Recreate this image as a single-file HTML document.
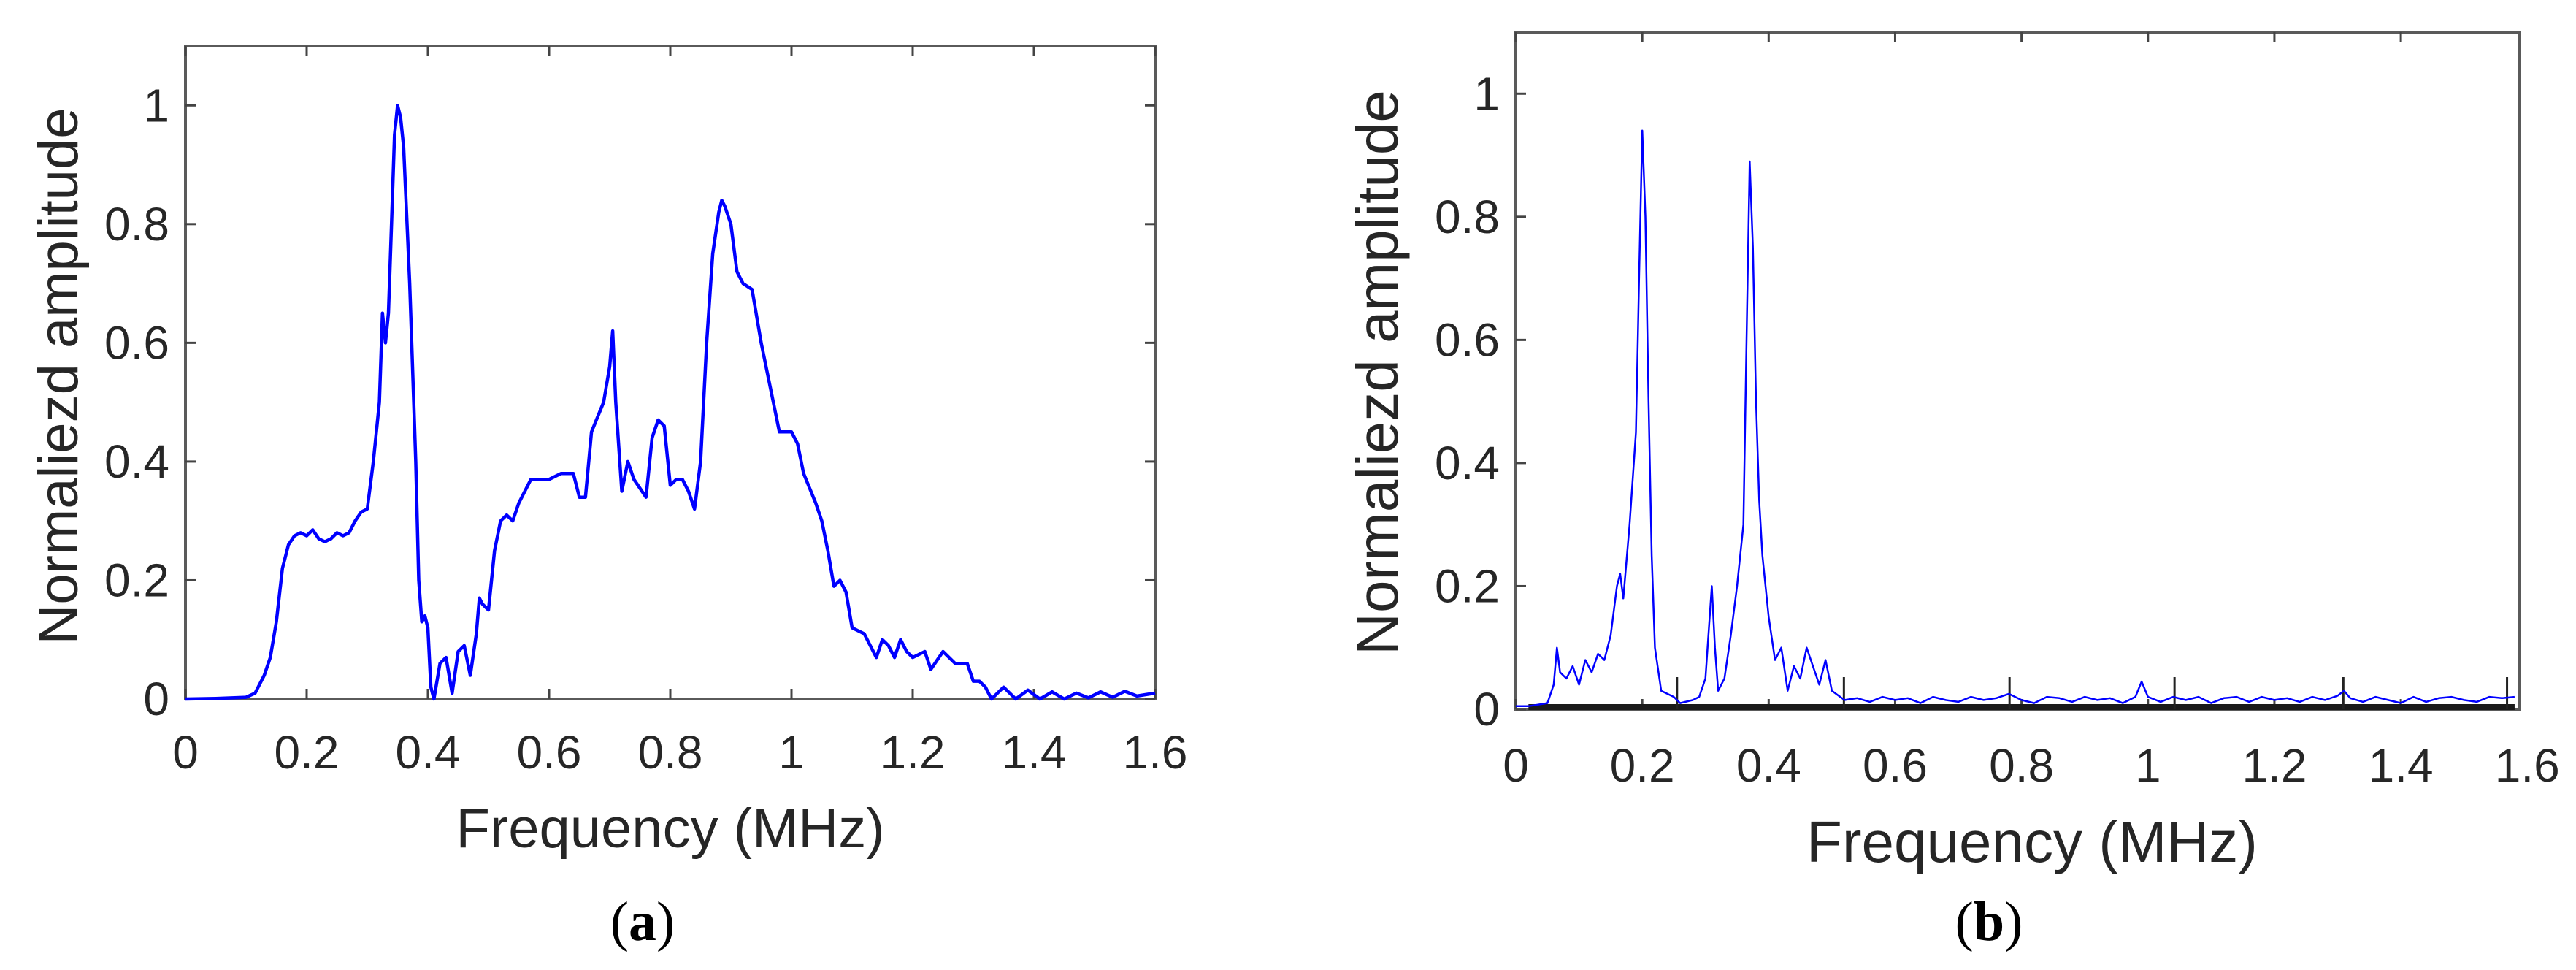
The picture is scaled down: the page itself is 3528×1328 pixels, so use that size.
<!DOCTYPE html>
<html><head><meta charset="utf-8"><style>
html,body{margin:0;padding:0;background:#fff;}
svg{display:block;}
text{font-family:"Liberation Sans",Arial,sans-serif;fill:#262626;}
</style></head><body>
<svg id="fig" width="3528" height="1328" viewBox="0 0 3528 1328"></svg>
<script>
// ---- Panel (a) data ----
const aFreq=[0,0.05,0.1,0.115,0.13,0.14,0.15,0.16,0.17,0.18,0.19,0.2,0.21,0.22,0.23,0.24,0.25,0.26,0.27,0.28,0.29,0.3,0.31,0.32,0.325,0.33,0.335,0.34,0.345,0.35,0.355,0.36,0.37,0.38,0.385,0.39,0.395,0.4,0.405,0.41,0.42,0.43,0.44,0.45,0.46,0.47,0.48,0.485,0.49,0.5,0.51,0.52,0.53,0.54,0.55,0.56,0.57,0.58,0.6,0.62,0.64,0.65,0.66,0.67,0.69,0.7,0.705,0.71,0.72,0.73,0.74,0.76,0.77,0.78,0.79,0.8,0.81,0.82,0.83,0.84,0.85,0.86,0.87,0.88,0.885,0.89,0.9,0.91,0.92,0.935,0.95,0.97,0.98,1.0,1.01,1.02,1.04,1.05,1.06,1.07,1.08,1.09,1.1,1.12,1.14,1.15,1.16,1.17,1.18,1.19,1.2,1.22,1.23,1.25,1.27,1.29,1.3,1.31,1.32,1.33,1.35,1.37,1.39,1.41,1.43,1.45,1.47,1.49,1.51,1.53,1.55,1.57,1.6];
const aAmp=[0,0.001,0.003,0.01,0.04,0.07,0.13,0.22,0.26,0.275,0.28,0.275,0.285,0.27,0.265,0.27,0.28,0.275,0.28,0.3,0.315,0.32,0.4,0.5,0.65,0.6,0.65,0.8,0.95,1.0,0.98,0.93,0.7,0.4,0.2,0.13,0.14,0.12,0.02,0.0,0.06,0.07,0.01,0.08,0.09,0.04,0.11,0.17,0.16,0.15,0.25,0.3,0.31,0.3,0.33,0.35,0.37,0.37,0.37,0.38,0.38,0.34,0.34,0.45,0.5,0.56,0.62,0.5,0.35,0.4,0.37,0.34,0.44,0.47,0.46,0.36,0.37,0.37,0.35,0.32,0.4,0.6,0.75,0.82,0.84,0.83,0.8,0.72,0.7,0.69,0.6,0.5,0.45,0.45,0.43,0.38,0.33,0.3,0.25,0.19,0.2,0.18,0.12,0.11,0.07,0.1,0.09,0.07,0.1,0.08,0.07,0.08,0.05,0.08,0.06,0.06,0.03,0.03,0.02,0.0,0.02,0.0,0.015,0.0,0.012,0.0,0.01,0.002,0.012,0.003,0.013,0.005,0.01];
// ---- Panel (b) data ----
const bFreq=[0,0.02,0.05,0.06,0.065,0.07,0.08,0.09,0.1,0.11,0.12,0.13,0.14,0.15,0.16,0.165,0.17,0.18,0.19,0.195,0.2,0.205,0.21,0.215,0.22,0.23,0.25,0.26,0.28,0.29,0.3,0.31,0.315,0.32,0.33,0.34,0.35,0.36,0.365,0.37,0.375,0.38,0.385,0.39,0.4,0.41,0.42,0.43,0.44,0.45,0.46,0.47,0.48,0.49,0.5,0.52,0.54,0.56,0.58,0.6,0.62,0.64,0.66,0.68,0.7,0.72,0.74,0.76,0.78,0.8,0.82,0.84,0.86,0.88,0.9,0.92,0.94,0.96,0.98,0.99,1.0,1.02,1.04,1.06,1.08,1.1,1.12,1.14,1.16,1.18,1.2,1.22,1.24,1.26,1.28,1.3,1.31,1.32,1.34,1.36,1.38,1.4,1.42,1.44,1.46,1.48,1.5,1.52,1.54,1.56,1.58];
const bAmp=[0.005,0.005,0.01,0.04,0.1,0.06,0.05,0.07,0.04,0.08,0.06,0.09,0.08,0.12,0.2,0.22,0.18,0.3,0.45,0.7,0.94,0.8,0.5,0.25,0.1,0.03,0.02,0.01,0.015,0.02,0.05,0.2,0.1,0.03,0.05,0.12,0.2,0.3,0.6,0.89,0.75,0.5,0.34,0.25,0.15,0.08,0.1,0.03,0.07,0.05,0.1,0.07,0.04,0.08,0.03,0.015,0.018,0.012,0.02,0.015,0.018,0.01,0.02,0.015,0.012,0.02,0.015,0.018,0.025,0.015,0.01,0.02,0.018,0.012,0.02,0.015,0.018,0.01,0.02,0.045,0.02,0.012,0.02,0.015,0.02,0.01,0.018,0.02,0.012,0.02,0.015,0.018,0.012,0.02,0.015,0.022,0.03,0.018,0.012,0.02,0.015,0.01,0.02,0.012,0.018,0.02,0.015,0.012,0.02,0.018,0.02];
const yTicks=[0,0.2,0.4,0.6,0.8,1];
const yTickLabels=["0","0.2","0.4","0.6","0.8","1"];
const xTicks=[0,0.2,0.4,0.6,0.8,1,1.2,1.4,1.6];
const xTickLabels=["0","0.2","0.4","0.6","0.8","1","1.2","1.4","1.6"];
const bInnerTicks=[0.255,0.519,0.781,1.042,1.309,1.568];

const NS="http://www.w3.org/2000/svg";
const svg=document.getElementById('fig');
function mk(tag,attrs,parent,txt){const e=document.createElementNS(NS,tag);for(const k in attrs)e.setAttribute(k,attrs[k]);if(txt!==undefined)e.textContent=txt;(parent||svg).appendChild(e);return e;}

function panel(cfg){
  const g=mk('g',{});
  
  
  const sx=v=>cfg.x0+(v-0)/(cfg.xmax)*(cfg.x1-cfg.x0);
  const sy=v=>cfg.y0-v/cfg.ymax*(cfg.y0-cfg.yTop);
  const box=mk('rect',{x:cfg.x0,y:cfg.yTop,width:cfg.x1-cfg.x0,height:cfg.y0-cfg.yTop,fill:'none',stroke:'#5a5a5a','stroke-width':4},g);
  
  
  yTicks.forEach((t,i)=>{
    const y=sy(t);
    mk('line',{x1:cfg.x0,x2:cfg.x0+14,y1:y,y2:y,stroke:'#444','stroke-width':3},g);
    if(cfg.rightTicks) mk('line',{x1:cfg.x1,x2:cfg.x1-14,y1:y,y2:y,stroke:'#444','stroke-width':3},g);
    const tx=mk('text',{x:cfg.x0-22,y:y+22,'text-anchor':'end','font-size':cfg.tickFs},g,yTickLabels[i]);
    
    
  });
  xTicks.forEach((t,i)=>{
    const x=sx(t);
    if(t<=cfg.xmax+0.001){
      mk('line',{x1:x,x2:x,y1:cfg.y0,y2:cfg.y0-14,stroke:'#444','stroke-width':3},g);
      mk('line',{x1:x,x2:x,y1:cfg.yTop,y2:cfg.yTop+14,stroke:'#444','stroke-width':3},g);
    }
    const tx=mk('text',{x:x,y:cfg.xLabY,'text-anchor':'middle','font-size':cfg.tickFs},g,xTickLabels[i]);
    
    
  });
  if(cfg.zeroLine){
    const zl=mk('line',{x1:sx(0.02),x2:sx(1.58),y1:cfg.y0-3,y2:cfg.y0-3,stroke:'#1a1a1a','stroke-width':8},g);
    
    
    bInnerTicks.forEach(t=>{mk('line',{x1:sx(t),x2:sx(t),y1:cfg.y0,y2:cfg.y0-44,stroke:'#222','stroke-width':3},g);});
  }
  let d='';
  cfg.fx.forEach((f,i)=>{d+=(i?'L':'M')+sx(f).toFixed(1)+' '+sy(cfg.fy[i]).toFixed(1);});
  const p=mk('path',{d:d,fill:'none',stroke:'#0000ff','stroke-width':cfg.lw,'stroke-linejoin':'round'},g);
  
  
  const xl=mk('text',{x:(cfg.x0+cfg.x1)/2+cfg.xlOff,y:cfg.xTitleY,'text-anchor':'middle','font-size':cfg.labFs},g,'Frequency (MHz)');
  
  
  const yl=mk('text',{x:0,y:0,'text-anchor':'middle','font-size':cfg.labFs,transform:'translate('+cfg.ylX+','+cfg.ylY+') rotate(-90)'},g,'Normaliezd amplitude');
  
  
  const cap=mk('text',{x:cfg.capX,y:cfg.capY,'text-anchor':'middle','font-size':76,style:'font-family:"Liberation Serif",serif;fill:#000'},g);
  
  
  mk('tspan',{},cap,'(');
  mk('tspan',{'font-weight':'bold'},cap,cfg.cap);
  mk('tspan',{},cap,')');
}
panel({name:'panel-a',x0:254,x1:1582,xmax:1.6,y0:957,yTop:63,ymax:1.1,tickFs:64,labFs:76,xLabY:1052,xTitleY:1160,xlOff:0,ylX:106,ylY:515,capX:880,capY:1287,cap:'a',fy:aAmp,fx:aFreq,lw:4.5,rightTicks:true});
panel({name:'panel-b',x0:2076,x1:3450,xmax:1.587,y0:971,yTop:44,ymax:1.1,tickFs:64,labFs:80,xLabY:1070,xTitleY:1180,xlOff:20,ylX:1914,ylY:510,capX:2724,capY:1287,cap:'b',fy:bAmp,fx:bFreq,lw:2.5,rightTicks:false,zeroLine:true});
</script>
</body></html>
